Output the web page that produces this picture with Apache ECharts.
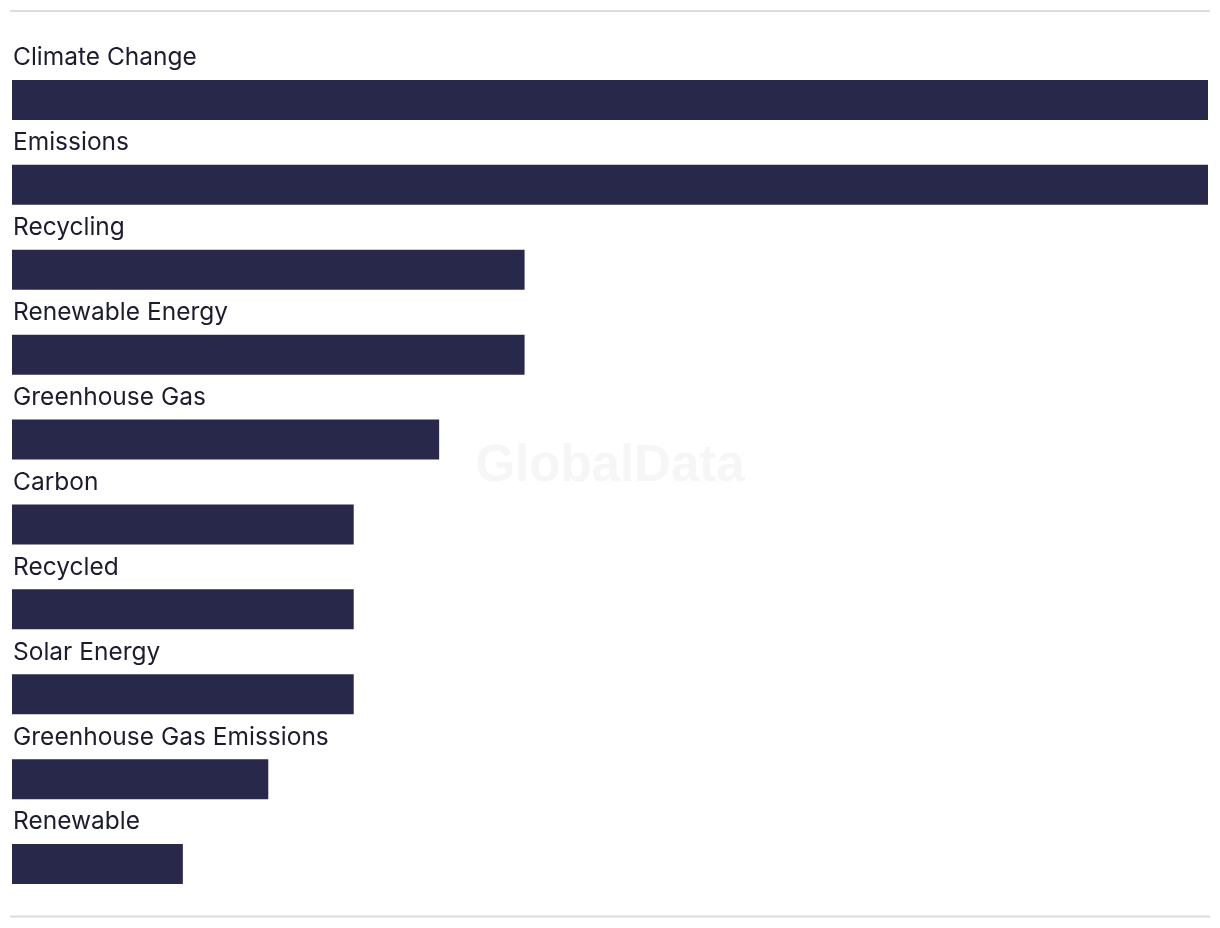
<!DOCTYPE html>
<html><head><meta charset="utf-8">
<script src="https://cdn.jsdelivr.net/npm/echarts@6/dist/echarts.min.js"></script>
<style>html,body{margin:0;padding:0;background:#fff}#c{width:1220px;height:928px}</style>
</head><body><div id="c"></div>
<script>
const categories = ["Climate Change","Emissions","Recycling","Renewable Energy","Greenhouse Gas","Carbon","Recycled","Solar Energy","Greenhouse Gas Emissions","Renewable"];
const values = [14,14,6,6,5,4,4,4,3,2];
const chart = echarts.init(document.getElementById('c'), null, {renderer:'canvas'});
chart.setOption({
  animation:false,
  backgroundColor:'#fff',
  grid:{left:12,right:12,top:57.5,bottom:21.5,containLabel:false},
  xAxis:{type:'value',min:0,max:14,show:false},
  yAxis:{type:'category',data:categories,inverse:true,show:false},
  graphic:[
    {type:'line',shape:{x1:10,y1:11,x2:1210,y2:11},style:{stroke:'#dcdcdc',lineWidth:2}},
    {type:'line',shape:{x1:10,y1:916.5,x2:1210,y2:916.5},style:{stroke:'#dcdcdc',lineWidth:2}},
    {type:'text',left:'center',top:441,z:-1,style:{text:'GlobalData',font:'bold 51px "Liberation Sans", Arial, sans-serif',fill:'#f6f6f6'}}
  ],
  series:[{
    type:'bar',data:values,barWidth:40,
    itemStyle:{color:'#28284a'},
    label:{show:true,formatter:'{b}',position:[1,-22],align:'left',verticalAlign:'middle',
      color:'#1c1c2e',fontSize:24.5,fontFamily:'Inter, "Liberation Sans", sans-serif'}
  }]
});
</script></body></html>
